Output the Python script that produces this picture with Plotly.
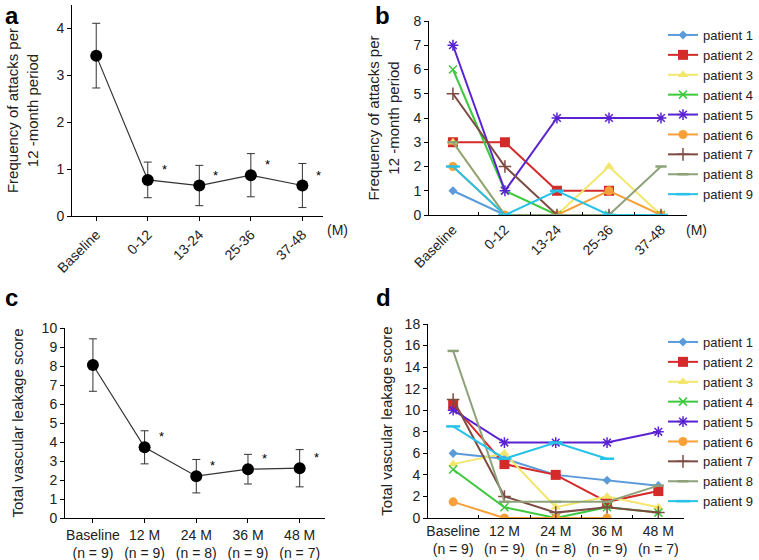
import plotly.graph_objects as go

# ---------------- data ----------------
cats_ab = ["Baseline", "0-12", "13-24", "25-36", "37-48"]
cats_cd = ["Baseline<br>(n = 9)", "12 M<br>(n = 9)", "24 M<br>(n = 8)", "36 M<br>(n = 9)", "48 M<br>(n = 7)"]

freq_mean = [3.42, 0.77, 0.65, 0.87, 0.65]
freq_err = [0.69, 0.38, 0.43, 0.46, 0.47]
freq_sig = ["", "*", "*", "*", "*"]

score_mean = [8.05, 3.72, 2.2, 2.57, 2.62]
score_err = [1.38, 0.87, 0.88, 0.78, 0.98]
score_sig = ["", "*", "*", "*", "*"]

patients = ["patient 1", "patient 2", "patient 3", "patient 4", "patient 5",
            "patient 6", "patient 7", "patient 8", "patient 9"]

freq_patients = [
    [1, 0, 0, 0, 0],
    [3, 3, 1, 1, None],
    [3, 0, 0, 2, 0],
    [6, 1, 0, 0, 0],
    [7, 1, 4, 4, 4],
    [2, 0, 0, 1, 0],
    [5, 2, 0, 0, 0],
    [3, 0, 0, 0, 2],
    [2, 0, 1, 0, 0],
]

score_patients = [
    [6, 5.5, 4, 3.5, 3],
    [10.5, 5, 4, 1.5, 2.5],
    [5, 6, 1, 2, 1],
    [4.5, 1, 0, 1, 0.5],
    [10, 7, 7, 7, 8],
    [1.5, 0, 0, 0, None],
    [11, 2, 0.5, 1, 0.5],
    [15.5, 1.5, 1.5, 1.5, 3],
    [8.5, 5.5, 7, 5.5, None],
]

# ---------------- styles ----------------
colors = ["#5b9bd9", "#d42a2a", "#f2e66b", "#3ec83e", "#5a23d1",
          "#f7a037", "#7d4b42", "#8ea27a", "#28c2e8"]
symbols = ["diamond", "square", "triangle-up", "x-thin", "asterisk",
           "circle", "cross-thin", "line-ew", "line-ew"]
msizes = [7, 10, 9, 8, 9, 9, 9, 8, 10]

FONT = "Liberation Sans, Arial, Helvetica, sans-serif"
TXT = "#222222"

fig = go.Figure()
xs = list(range(5))

# Panel a
fig.add_trace(go.Scatter(
    x=xs, y=freq_mean, mode="lines+markers", xaxis="x", yaxis="y",
    line=dict(color="#333333", width=1.2),
    marker=dict(color="black", size=12),
    error_y=dict(type="data", array=freq_err, color="#333333", thickness=1, width=4),
    showlegend=False))

# Panel c
fig.add_trace(go.Scatter(
    x=xs, y=score_mean, mode="lines+markers", xaxis="x3", yaxis="y3",
    line=dict(color="#333333", width=1.2),
    marker=dict(color="black", size=12),
    error_y=dict(type="data", array=score_err, color="#333333", thickness=1, width=4),
    showlegend=False))

def marker_for(i):
    sym = symbols[i]
    m = dict(symbol=sym, size=msizes[i], color=colors[i])
    if sym in ("x-thin", "asterisk", "cross-thin", "line-ew"):
        m["line"] = dict(color=colors[i], width=2.5 if sym == "line-ew" else 1.5)
    return m

# Panel b
for i, name in enumerate(patients):
    fig.add_trace(go.Scatter(
        x=xs, y=freq_patients[i], mode="lines+markers", name=name,
        xaxis="x2", yaxis="y2", legend="legend",
        line=dict(color=colors[i], width=2), marker=marker_for(i)))

# Panel d
for i, name in enumerate(patients):
    fig.add_trace(go.Scatter(
        x=xs, y=score_patients[i], mode="lines+markers", name=name,
        xaxis="x4", yaxis="y4", legend="legend2",
        line=dict(color=colors[i], width=2), marker=marker_for(i)))

tickfont = dict(family=FONT, size=14, color=TXT)

def yax(domain, rng, dtick, title, xanchor, standoff, tsize):
    return dict(domain=domain, range=rng, dtick=dtick, anchor=xanchor, automargin=False,
                showline=True, linecolor="black", linewidth=1,
                ticks="outside", ticklen=4, tickcolor="black",
                showgrid=False, zeroline=False, tickfont=tickfont,
                title=dict(text=title, font=dict(family=FONT, size=tsize, color=TXT), standoff=standoff))

def xax(domain, rng, labels, yanchor, angle, mid):
    d = dict(domain=domain, range=rng, anchor=yanchor, automargin=False,
             tickmode="array", tickvals=xs, ticktext=labels, tickangle=angle,
             showline=True, linecolor="black", linewidth=1,
             showgrid=False, zeroline=False, tickfont=tickfont)
    if mid:
        d.update(ticks="", minor=dict(tickmode="array", tickvals=[0.5, 1.5, 2.5, 3.5],
                                      ticks="inside", ticklen=3, tickcolor="black"))
    else:
        d.update(ticks="outside", ticklen=4, tickcolor="black")
    return d

fig.update_layout(
    width=759, height=560,
    margin=dict(l=0, r=0, t=0, b=0),
    paper_bgcolor="white", plot_bgcolor="white",
    font=dict(family=FONT, color=TXT),
    xaxis=xax([72/759, 323/759], [-0.47, 4.4], cats_ab, "y", -45, False),
    yaxis=yax([1-216/560, 1-5/560], [0, 4.5], 1,
              "Frequency of attacks per<br>12 -month period", "x", 14, 15),
    xaxis2=xax([429/759, 687/759], [-0.46, 4.5], cats_ab, "y2", -45, True),
    yaxis2=yax([1-215/560, 1-21/560], [0, 8], 1,
               "Frequency of attacks per<br>12 -month period", "x2", 10, 15),
    xaxis3=xax([65/759, 325/759], [-0.54, 4.49], cats_cd, "y3", 0, False),
    yaxis3=yax([1-518/560, 1-328/560], [0, 10], 1,
               "Total vascular leakage score", "x3", 14, 15),
    xaxis4=xax([428/759, 684/759], [-0.49, 4.5], cats_cd, "y4", 0, True),
    yaxis4=yax([1-518/560, 1-324/560], [0, 18], 2,
               "Total vascular leakage score", "x4", 8, 15),
    legend=dict(x=663/759, y=1-20/560, xanchor="left", yanchor="top",
                font=dict(family=FONT, size=13, color=TXT), tracegroupgap=0,
                bgcolor="rgba(0,0,0,0)", itemwidth=30),
    legend2=dict(x=663/759, y=1-327/560, xanchor="left", yanchor="top",
                 font=dict(family=FONT, size=13, color=TXT), tracegroupgap=0,
                 bgcolor="rgba(0,0,0,0)", itemwidth=30),
)

ann = []
# panel letters
for letter, px, py in [("a", 3, 15), ("b", 373, 15), ("c", 3, 297), ("d", 374, 297)]:
    ann.append(dict(text="<b>%s</b>" % letter, x=px/759, y=1-py/560, xref="paper", yref="paper",
                    xanchor="left", yanchor="middle", showarrow=False,
                    font=dict(family=FONT, size=24, color="black")))
# (M) labels
ann.append(dict(text="(M)", x=337/759, y=1-230/560, xref="paper", yref="paper",
                showarrow=False, font=dict(family=FONT, size=14, color=TXT)))
ann.append(dict(text="(M)", x=709/759, y=1-230/560, xref="paper", yref="paper",
                showarrow=False, font=dict(family=FONT, size=14, color=TXT)))
# significance stars
for i in range(5):
    if freq_sig[i]:
        ann.append(dict(text=freq_sig[i], x=i + 0.32, y=freq_mean[i] + 0.22, xref="x", yref="y",
                        showarrow=False, font=dict(family=FONT, size=13, color="black")))
    if score_sig[i]:
        ann.append(dict(text=score_sig[i], x=i + 0.32, y=score_mean[i] + 0.55, xref="x3", yref="y3",
                        showarrow=False, font=dict(family=FONT, size=13, color="black")))
fig.update_layout(annotations=ann)

fig.write_html("out.html", config={"displayModeBar": False},
               post_script="document.body.style.margin='0';")
